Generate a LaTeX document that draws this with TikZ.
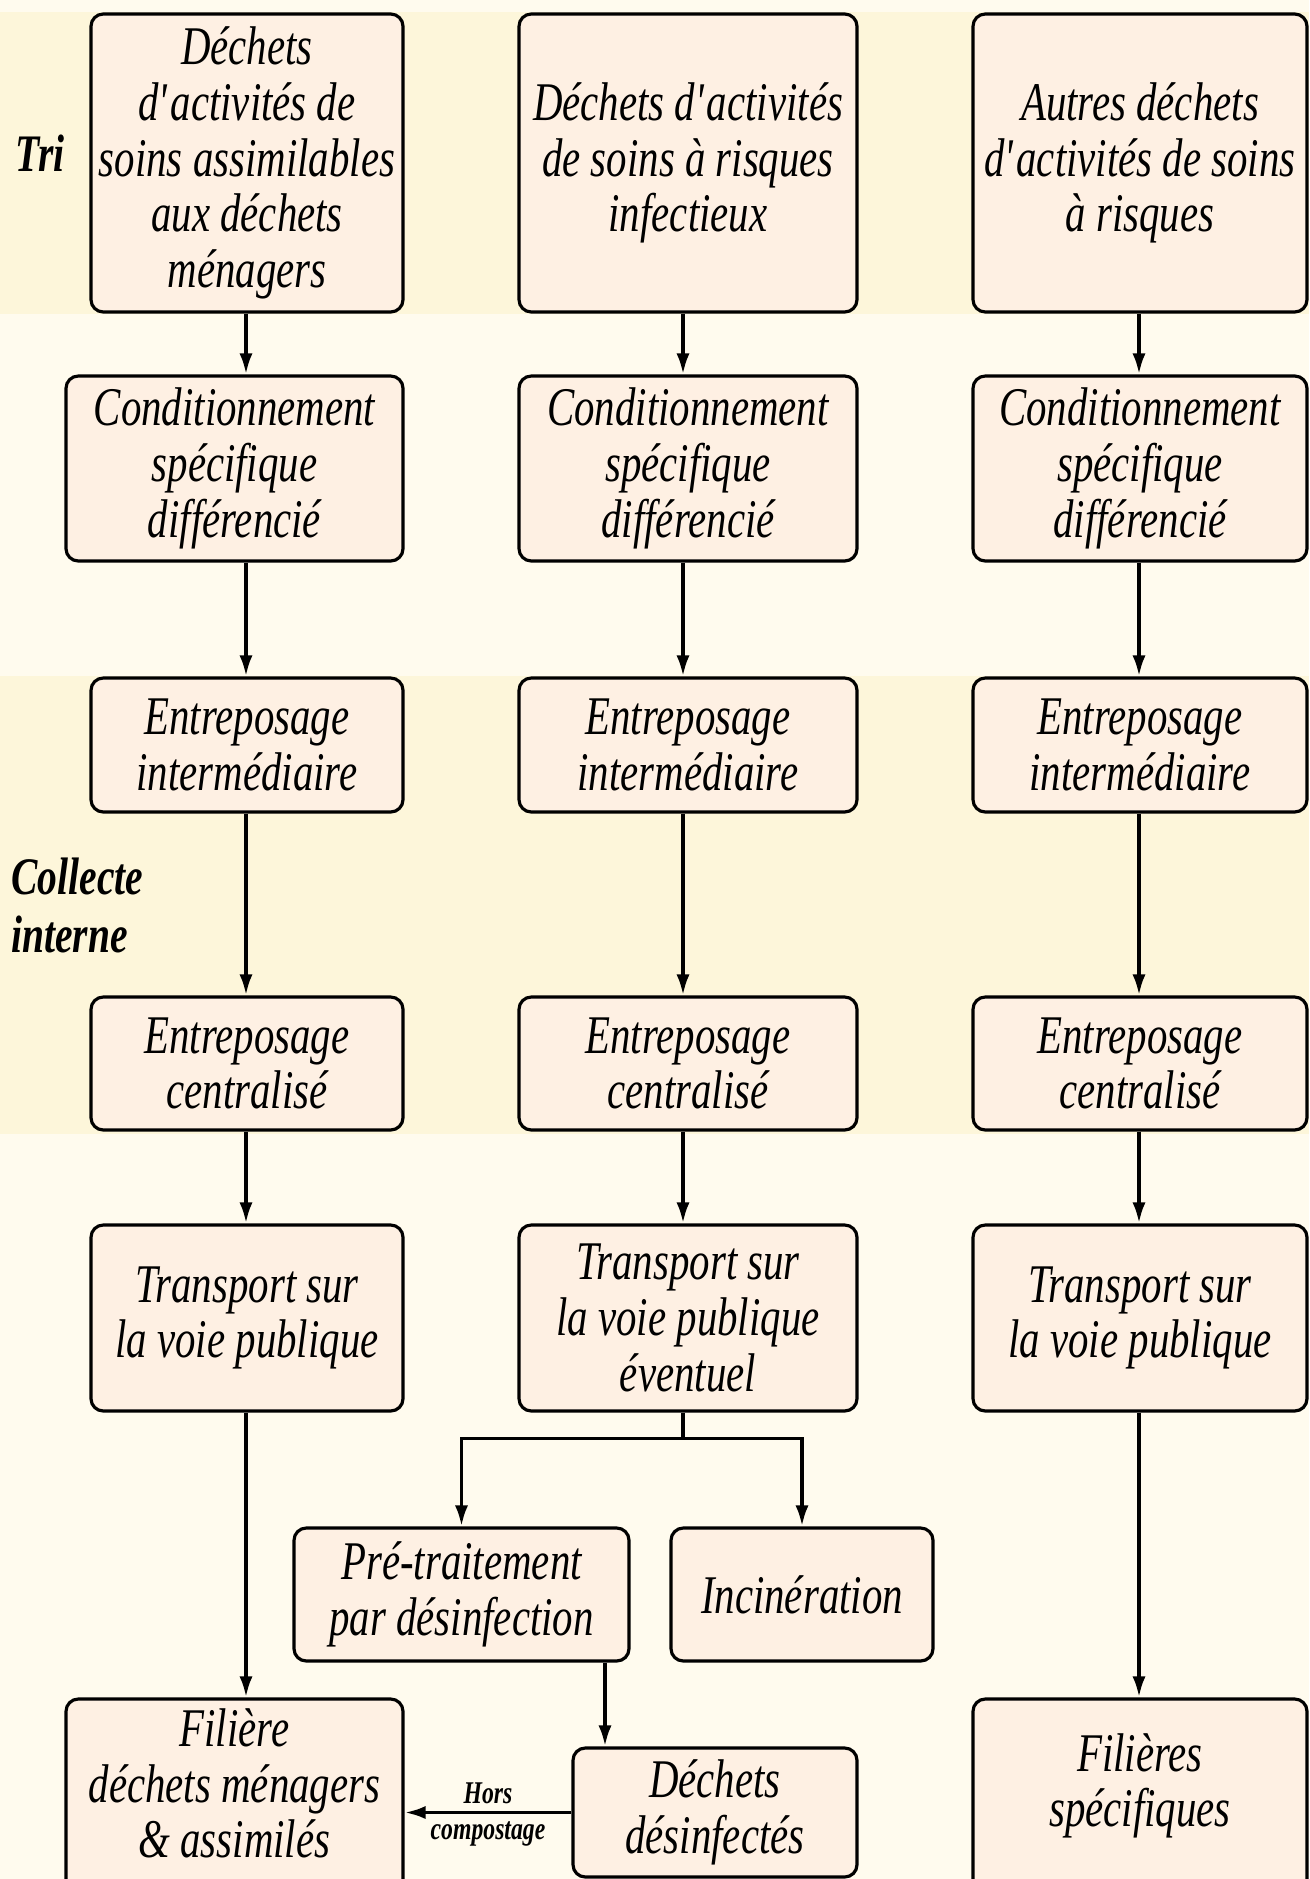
\documentclass[tikz,border=0pt]{standalone}
\usepackage{fontspec}
\setmainfont{Liberation Serif}[FakeStretch = 0.75]
\usetikzlibrary{arrows.meta}

\begin{document}
\begin{tikzpicture}[x = 0.02cm, y = -0.02cm,
  box/.style = {draw = black, fill = boxfill, line width = 1.8pt, rounded corners = 7pt, align = center, inner sep = 0pt, font = \fontsize{31}{31.75}\selectfont\itshape},
  boxsize/.style 2 args = {minimum width = #1*0.02cm, minimum height = #2*0.02cm},
  flow/.style = {line width = 2.1pt, -{Latex[length = 12pt, width = 7.5pt]}},
  stage/.style = {align = left, inner sep = 0pt, font = \fontsize{30}{33}\selectfont\bfseries\itshape},
  side/.style = {inner sep = 0pt, font = \fontsize{18}{18}\selectfont\bfseries\itshape}]
\definecolor{page}{HTML}{FFFBEE}
\definecolor{band}{HTML}{FDF6DA}
\definecolor{boxfill}{HTML}{FEF0E3}
\useasboundingbox (0,0) rectangle (1309,1879);
\fill[page] (0,0) rectangle (1309,1879);
\fill[band] (0,12) rectangle (1309,314);
\fill[band] (0,676) rectangle (1309,1134);
\node[stage] (tri) at (40,153) {Tri};
\node[stage, anchor = west] (collecte) at (11,905) {Collecte\\interne};
% arrow columns
\coordinate (ax) at (246,0);
\coordinate (bx) at (683,0);
\coordinate (cx) at (1139,0);
\coordinate (dx) at (605,0);
% left column
\node[box, boxsize = {312}{298}] (a1) at (247,163) {Déchets\\d\textquotesingle activités de\\soins assimilables\\aux déchets\\ménagers};
\node[box, boxsize = {337}{185}] (a2) at (234.5,468.5) {Conditionnement\\spécifique\\différencié};
\node[box, boxsize = {312}{134}] (a3) at (247,745) {Entreposage\\intermédiaire};
\node[box, boxsize = {312}{133}] (a4) at (247,1063.5) {Entreposage\\centralisé};
\node[box, boxsize = {312}{186}] (a5) at (247,1318) {Transport sur\\la voie publique};
\node[box, boxsize = {337}{224}] (a6) at (234.5,1811) {Filière\\déchets ménagers\\\& assimilés\\~};
% middle column
\node[box, boxsize = {338}{298}] (b1) at (688,163) {Déchets d\textquotesingle activités\\de soins à risques\\infectieux};
\node[box, boxsize = {338}{185}] (b2) at (688,468.5) {Conditionnement\\spécifique\\différencié};
\node[box, boxsize = {338}{134}] (b3) at (688,745) {Entreposage\\intermédiaire};
\node[box, boxsize = {338}{133}] (b4) at (688,1063.5) {Entreposage\\centralisé};
\node[box, boxsize = {338}{186}] (b5) at (688,1318) {Transport sur\\la voie publique\\éventuel};
\node[box, boxsize = {335}{133}] (pre) at (461.5,1594.5) {Pré-traitement\\par désinfection};
\node[box, boxsize = {262}{133}] (inc) at (802,1594.5) {Incinération};
\node[box, boxsize = {284}{129}] (des) at (715,1812.5) {Déchets\\désinfectés};
% right column
\node[box, boxsize = {334}{298}] (c1) at (1140,163) {Autres déchets\\d\textquotesingle activités de soins\\à risques};
\node[box, boxsize = {334}{185}] (c2) at (1140,468.5) {Conditionnement\\spécifique\\différencié};
\node[box, boxsize = {334}{134}] (c3) at (1140,745) {Entreposage\\intermédiaire};
\node[box, boxsize = {334}{133}] (c4) at (1140,1063.5) {Entreposage\\centralisé};
\node[box, boxsize = {334}{186}] (c5) at (1140,1318) {Transport sur\\la voie publique};
\node[box, boxsize = {334}{218}] (c6) at (1140,1808) {Filières\\spécifiques\\~};
% connectors
\foreach \c in {a,b,c}
  \foreach \i/\j in {1/2,2/3,3/4,4/5}
    \draw[flow] (\c\i.south -| \c x) -- (\c\j.north -| \c x);
\draw[flow] (a5.south -| ax) -- (a6.north -| ax);
\draw[flow] (c5.south -| cx) -- (c6.north -| cx);
\draw[line width = 2.1pt] (b5.south -| bx) -- ++(0,26) coordinate (split);
\draw[flow] (split) -| (pre.north);
\draw[flow] (split) -| (inc.north);
\draw[flow] (pre.south -| dx) -- (des.north -| dx);
\draw[flow] (des.west) -- (des.west -| a6.east)
  node[side, midway, above = 4pt] (hors) {Hors}
  node[side, midway, below = 4pt] (compost) {compostage};
\end{tikzpicture}
\end{document}
